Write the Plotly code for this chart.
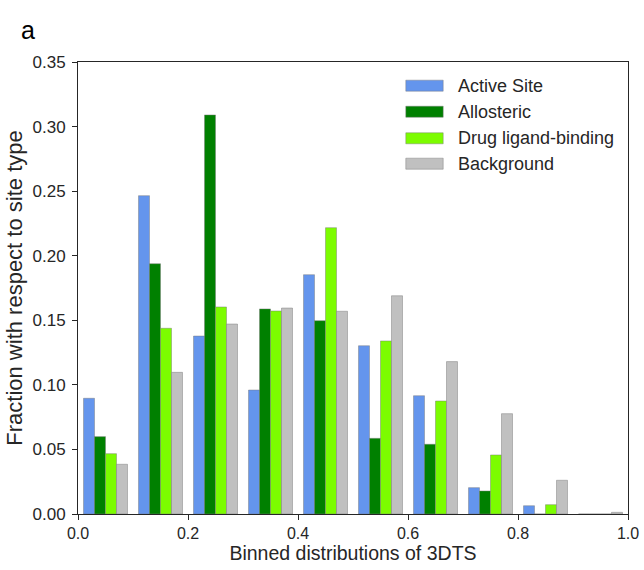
import plotly.graph_objects as go

# Bin centres of the 3DTS histogram (bins of width 0.1 on [0, 1])
bin_centers = [0.05, 0.15, 0.25, 0.35, 0.45, 0.55, 0.65, 0.75, 0.85, 0.95]

series_names = ["Active Site", "Allosteric", "Drug ligand-binding", "Background"]
active_site = [0.0896, 0.2465, 0.1378, 0.0960, 0.1853, 0.1303, 0.0916, 0.0204, 0.0064, 0.0]
allosteric = [0.0599, 0.1938, 0.3090, 0.1588, 0.1497, 0.0586, 0.0540, 0.0178, 0.0, 0.0]
drug_binding = [0.0467, 0.1438, 0.1603, 0.1572, 0.2217, 0.1340, 0.0875, 0.0457, 0.0072, 0.0]
background = [0.0385, 0.1097, 0.1471, 0.1595, 0.1570, 0.1690, 0.1180, 0.0777, 0.0261, 0.0013]

series_values = [active_site, allosteric, drug_binding, background]
series_colors = ["#6495ED", "#008000", "#7CFC00", "#C0C0C0"]

x_ticks = [0.0, 0.2, 0.4, 0.6, 0.8, 1.0]
y_ticks = [0.00, 0.05, 0.10, 0.15, 0.20, 0.25, 0.30, 0.35]

FONT = "Liberation Sans, Arial, sans-serif"
TEXT = "#262626"

fig = go.Figure()
for name, vals, col in zip(series_names, series_values, series_colors):
    fig.add_trace(go.Bar(
        x=bin_centers, y=vals, name=name,
        marker=dict(color=col, line=dict(color="rgba(120,120,120,0.45)", width=1)),
        showlegend=False,
    ))

# Legend drawn as swatches + labels in the upper right of the axes
legend_x0, legend_x1 = 0.596, 0.664
legend_rows = [0.9476, 0.8900, 0.8312, 0.7750]
half_h = 0.0122
for name, col, yc in zip(series_names, series_colors, legend_rows):
    fig.add_shape(type="rect", xref="paper", yref="paper",
                  x0=legend_x0, x1=legend_x1, y0=yc - half_h, y1=yc + half_h,
                  fillcolor=col, line=dict(color="rgba(120,120,120,0.45)", width=1))
    fig.add_annotation(xref="paper", yref="paper", x=0.688, y=yc,
                       xanchor="left", yanchor="middle", showarrow=False,
                       text=name, font=dict(family=FONT, size=18, color=TEXT))

# Panel label
fig.add_annotation(xref="paper", yref="paper", x=(19 - 78) / 550, y=(514 - 30) / 452,
                   xanchor="left", yanchor="middle", showarrow=False,
                   text="a", font=dict(family=FONT, size=25, color="#000000"))

axis_common = dict(
    showline=True, linecolor=TEXT, linewidth=1, mirror=True,
    ticks="outside", ticklen=5, tickwidth=1, tickcolor=TEXT,
    showgrid=False, zeroline=False, automargin=False,
)

fig.update_layout(
    width=644, height=570,
    margin=dict(l=78, r=16, t=62, b=56),
    paper_bgcolor="white", plot_bgcolor="white",
    barmode="group", bargap=0.2, bargroupgap=0,
    font=dict(family=FONT, color=TEXT),
    xaxis=dict(range=[0, 1], tickvals=x_ticks,
               ticktext=[f"{v:.1f}" for v in x_ticks],
               tickfont=dict(size=16, color=TEXT),
               title=dict(text="Binned distributions of 3DTS",
                          font=dict(size=19.5, color=TEXT), standoff=5),
               **axis_common),
    yaxis=dict(range=[0, 0.35], tickvals=y_ticks,
               ticktext=[f"{v:.2f}" for v in y_ticks],
               tickfont=dict(size=17, color=TEXT), ticklabelstandoff=3,
               title=dict(text="Fraction with respect to site type",
                          font=dict(size=22, color=TEXT), standoff=3),
               **axis_common),
)

fig.write_html("out.html")
